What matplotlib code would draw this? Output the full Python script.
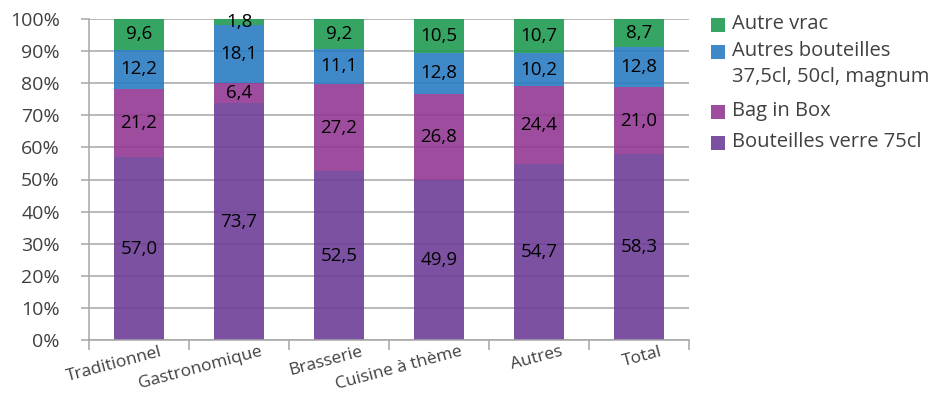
import numpy as np
import matplotlib
matplotlib.use("Agg")
import matplotlib.pyplot as plt
from matplotlib.patches import Rectangle
from matplotlib.transforms import blended_transform_factory

# Répartition des achats de vin par type de contenant (%)
categories = ["Traditionnel", "Gastronomique", "Brasserie", "Cuisine à thème", "Autres", "Total"]
series_names = ["Bouteilles verre 75cl", "Bag in Box",
                "Autres bouteilles\n37,5cl, 50cl, magnum", "Autre vrac"]
bouteilles_75 = [57.0, 73.7, 52.5, 49.9, 54.7, 58.3]
bag_in_box = [21.2, 6.4, 27.2, 26.8, 24.4, 21.0]
autres_bouteilles = [12.2, 18.1, 11.1, 12.8, 10.2, 12.8]
autre_vrac = [9.6, 1.8, 9.2, 10.5, 10.7, 8.7]
y_ticks = [0, 10, 20, 30, 40, 50, 60, 70, 80, 90, 100]

colors = ["#6f3e98", "#943894", "#2a7cc4", "#209a52"]
text_gray = "#404040"
grid_gray = "#a6a6a6"
FONT = ["Open Sans", "DejaVu Sans"]

plt.rcParams["font.family"] = FONT

values = np.array([bouteilles_75, bag_in_box, autres_bouteilles, autre_vrac])
# 100 % stacked: each column is scaled to its own total
shares = values / values.sum(axis=0) * 100

W, H = 935, 394
fig = plt.figure(figsize=(W / 100, H / 100), dpi=100)
ax = fig.add_axes([89 / W, 1 - 340 / H, 600 / W, 321 / H])

x = np.arange(len(categories))
bottom = np.zeros(len(categories))
for k in range(len(series_names)):
    ax.bar(x, shares[k], 0.5, bottom=bottom, color=colors[k], alpha=0.9,
           linewidth=0, zorder=2)
    for i in range(len(categories)):
        ax.text(x[i], bottom[i] + shares[k][i] / 2,
                f"{values[k][i]:.1f}".replace(".", ","),
                ha="center", va="center", fontsize=13.5, color="black", zorder=4)
    bottom += shares[k]

ax.set_xlim(-0.5, len(categories) - 0.5)
ax.set_ylim(0, 100)
ax.set_yticks(y_ticks)
ax.set_yticklabels([f"{t}%" for t in y_ticks], fontsize=14, color=text_gray)
ax.yaxis.grid(True, color=grid_gray, linewidth=1.1, zorder=0)
ax.set_axisbelow(True)
ax.tick_params(axis="y", length=6, width=1.1, color=grid_gray, pad=15)

ax.set_xticks(np.arange(-0.5, len(categories), 1.0))
ax.set_xticklabels([])
ax.tick_params(axis="x", length=7, width=1.1, color=grid_gray)

for side in ["top", "right"]:
    ax.spines[side].set_visible(False)
for side in ["left", "bottom"]:
    ax.spines[side].set_color(grid_gray)
    ax.spines[side].set_linewidth(1.1)

trans = blended_transform_factory(ax.transData, ax.transAxes)
for i, name in enumerate(categories):
    ax.text(x[i] + 0.21, -0.012, name, transform=trans, ha="right", va="top",
            rotation=15, rotation_mode="anchor", fontsize=12.5,
            color=text_gray)

# Legend, top entry = last series
legend_rows = [(3, 25), (2, 52), (1, 112), (0, 143)]
sq = 14
for k, yc in legend_rows:
    fig.patches.append(Rectangle((711 / W, 1 - (yc + sq / 2) / H), sq / W, sq / H,
                                 transform=fig.transFigure, facecolor=colors[k],
                                 alpha=0.9, edgecolor="none"))
    fig.text(732 / W, 1 - (yc - 11) / H, series_names[k], ha="left", va="top",
             fontsize=14.5, color=text_gray, linespacing=1.4)

fig.savefig("out.png", dpi=100)
